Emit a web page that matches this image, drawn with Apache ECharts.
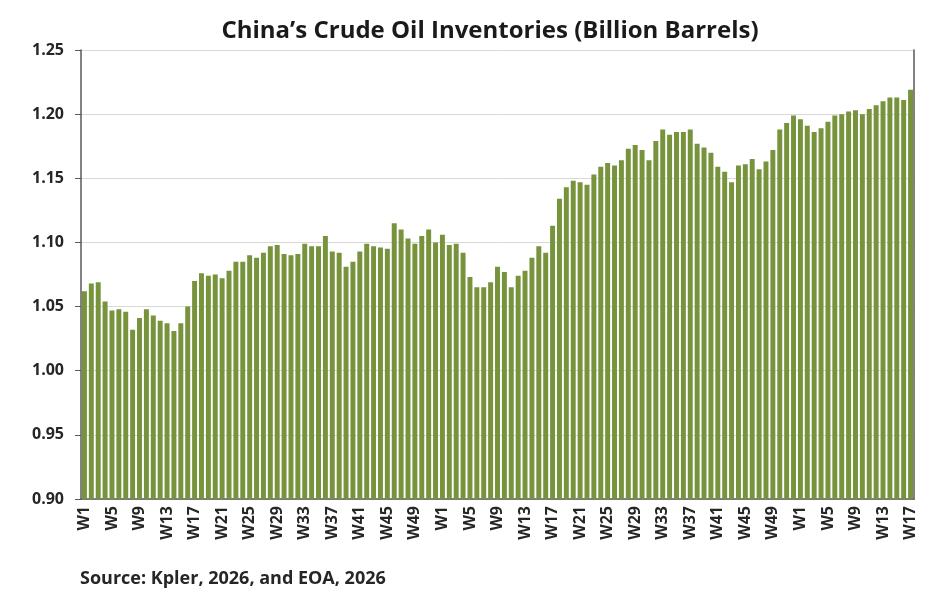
<!DOCTYPE html>
<html>
<head>
    <meta charset="utf-8">
    <title>China's Crude Oil Inventories</title>
    <script src="https://cdn.jsdelivr.net/npm/echarts@6/dist/echarts.min.js"></script>
    <style>
        html, body { margin: 0; padding: 0; background: #fff; }
        #main { width: 945px; height: 605px; }
    </style>
</head>
<body>
<div id="main"></div>
<script type="text/javascript">
    // weekly inventories in billion barrels
    var year1 = [1.062, 1.068, 1.069, 1.054, 1.047, 1.048, 1.046, 1.032, 1.041, 1.048,
                 1.043, 1.039, 1.037, 1.031, 1.037, 1.050, 1.070, 1.076, 1.074, 1.075,
                 1.072, 1.078, 1.085, 1.085, 1.090, 1.088, 1.092, 1.097, 1.098, 1.091,
                 1.090, 1.091, 1.099, 1.097, 1.097, 1.105, 1.093, 1.092, 1.081, 1.085,
                 1.093, 1.099, 1.097, 1.096, 1.095, 1.115, 1.110, 1.103, 1.099, 1.105,
                 1.110, 1.100];
    var year2 = [1.106, 1.098, 1.099, 1.092, 1.073, 1.065, 1.065, 1.069, 1.081, 1.077,
                 1.065, 1.074, 1.078, 1.088, 1.097, 1.092, 1.113, 1.134, 1.143, 1.148,
                 1.147, 1.145, 1.153, 1.159, 1.162, 1.160, 1.164, 1.173, 1.176, 1.172,
                 1.164, 1.179, 1.188, 1.184, 1.186, 1.186, 1.188, 1.177, 1.174, 1.170,
                 1.159, 1.155, 1.147, 1.160, 1.161, 1.165, 1.157, 1.163, 1.172, 1.188,
                 1.193, 1.199];
    var year3 = [1.196, 1.191, 1.186, 1.189, 1.194, 1.199, 1.200, 1.202, 1.203, 1.200,
                 1.204, 1.207, 1.210, 1.213, 1.213, 1.211, 1.219];
    var yTicks = ['0.90', '0.95', '1.00', '1.05', '1.10', '1.15', '1.20', '1.25'];

    // W1..Wn labels for each year, one after the other
    var weeks = [];
    [year1, year2, year3].forEach(function (yr) {
        for (var i = 0; i < yr.length; i++) {
            weeks.push('W' + (i + 1));
        }
    });
    var values = year1.concat(year2, year3);

    var font = '"Open Sans", "DejaVu Sans", sans-serif';
    var axisColor = '#595959';

    var myChart = echarts.init(document.getElementById('main'));
    myChart.setOption({
        animation: false,
        backgroundColor: '#ffffff',
        grid: {
            left: 81,
            right: 31,
            top: 50,
            bottom: 106
        },
        xAxis: {
            type: 'category',
            data: weeks,
            boundaryGap: true,
            axisLine: { lineStyle: { color: axisColor, width: 1.5 } },
            axisTick: { interval: 3, length: 5, lineStyle: { color: axisColor } },
            axisLabel: {
                interval: 3,
                rotate: 90,
                margin: 7,
                fontFamily: font,
                fontSize: 16,
                fontWeight: 'bold',
                color: '#262626'
            }
        },
        yAxis: [{
            type: 'value',
            min: +yTicks[0],
            max: +yTicks[yTicks.length - 1],
            interval: 0.05,
            axisLine: { show: true, lineStyle: { color: axisColor, width: 1.5 } },
            axisTick: { show: true, length: 6, lineStyle: { color: axisColor } },
            splitLine: { lineStyle: { color: '#d9d9d9' } },
            axisLabel: {
                margin: 17,
                fontFamily: font,
                fontSize: 16,
                fontWeight: 'bold',
                color: '#262626',
                formatter: function (v) {
                    return yTicks[Math.round((v - yTicks[0]) / 0.05)];
                }
            }
        }, {
            // right border of the plot
            type: 'value',
            position: 'right',
            min: +yTicks[0],
            max: +yTicks[yTicks.length - 1],
            interval: 0.05,
            axisLine: { show: true, lineStyle: { color: axisColor, width: 1.5 } },
            axisTick: { show: false },
            axisLabel: { show: false },
            splitLine: { show: false }
        }],
        series: [{
            name: 'Inventories',
            type: 'bar',
            data: values,
            barCategoryGap: '28%',
            itemStyle: { color: '#77933c' }
        }],
        graphic: [{
            type: 'text',
            x: 490,
            y: 31,
            style: {
                text: 'China\u2019s Crude Oil Inventories (Billion Barrels)',
                align: 'center',
                verticalAlign: 'middle',
                fontFamily: font,
                fontSize: 24,
                fontWeight: 'bold',
                fill: '#1a1a1a'
            }
        }, {
            type: 'text',
            left: 80,
            top: 570,
            style: {
                text: 'Source: Kpler, 2026, and EOA, 2026',
                fontFamily: font,
                fontSize: 18,
                fontWeight: 'bold',
                fill: '#262626'
            }
        }]
    });
</script>
</body>
</html>
